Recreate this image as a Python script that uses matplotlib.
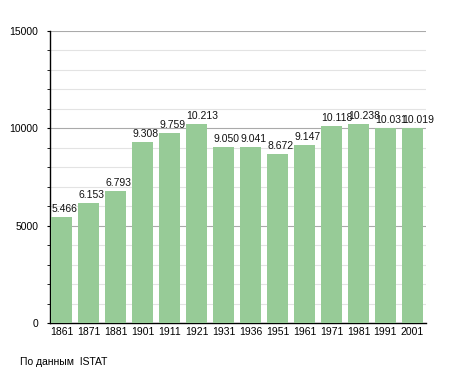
import numpy as np
import matplotlib.pyplot as plt
from matplotlib.ticker import MultipleLocator

plt.rcParams['font.family'] = ['Liberation Sans', 'DejaVu Sans']

# данные
years = ['1861', '1871', '1881', '1901', '1911', '1921', '1931', '1936',
         '1951', '1961', '1971', '1981', '1991', '2001']
population = [5466, 6153, 6793, 9308, 9759, 10213, 9050, 9041,
              8672, 9147, 10118, 10238, 10031, 10019]
labels = ['5.466', '6.153', '6.793', '9.308', '9.759', '10.213', '9.050',
          '9.041', '8.672', '9.147', '10.118', '10.238', '10.031', '10.019']

BAR_COLOR = '#97cb97'

fig = plt.figure(figsize=(4.55, 3.73), dpi=100)
ax = fig.add_axes([0.110, 0.134, 0.826, 0.783])

x = np.arange(len(years))
width = 0.78
ax.bar(x, population, width=width, color=BAR_COLOR, zorder=3)

# подписи значений над столбцами
for xi, v, lab in zip(x, population, labels):
    ax.text(xi - width / 2, v + 150, lab, ha='left', va='bottom',
            fontsize=7.5, color='#111111', zorder=4)

ax.set_xlim(-0.5 + (1 - width) / 2 - 0.05, len(years) - 0.5)
ax.set_ylim(0, 15000)
ax.set_xticks(x)
ax.set_xticklabels(years, fontsize=7.5)
ax.yaxis.set_major_locator(MultipleLocator(5000))
ax.yaxis.set_minor_locator(MultipleLocator(1000))
ax.tick_params(axis='y', labelsize=7.5, length=2.5, pad=6)
ax.tick_params(axis='y', which='minor', length=2.5)
ax.tick_params(axis='x', length=0, pad=3)

ax.grid(axis='y', which='major', color='#aaaaaa', linewidth=0.8, zorder=1)
ax.grid(axis='y', which='minor', color='#e3e3e3', linewidth=0.8, zorder=1)

for s in ['top', 'right']:
    ax.spines[s].set_visible(False)
ax.spines['left'].set_linewidth(1.0)
ax.spines['bottom'].set_linewidth(1.0)

fig.text(20 / 455, 1 - 362 / 373, 'По данным  ISTAT', fontsize=7.5,
         ha='left', va='center')

fig.savefig('out.png', dpi=100, facecolor='white')
